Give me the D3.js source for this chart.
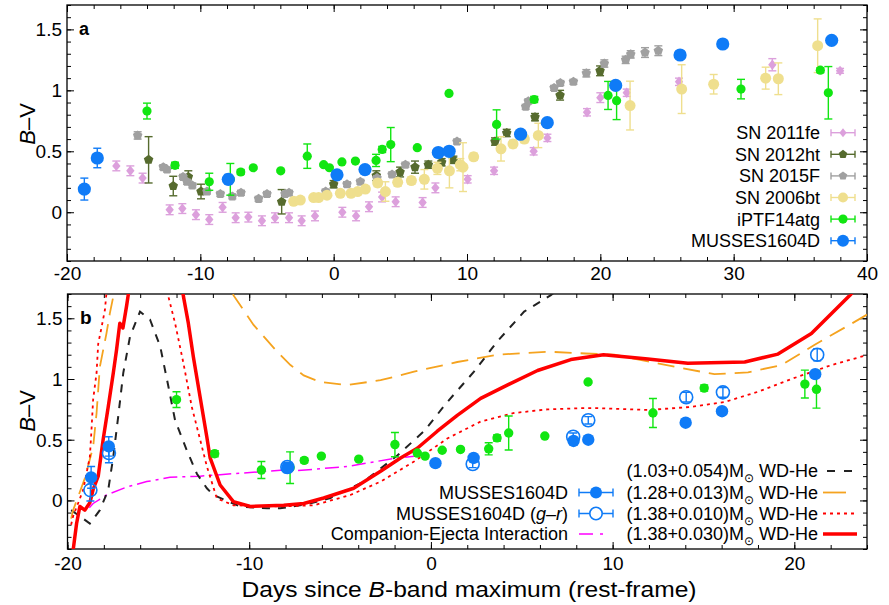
<!DOCTYPE html>
<html><head><meta charset="utf-8">
<script src="https://cdn.jsdelivr.net/npm/d3@7"></script>
<style>
body{margin:0;background:#fff}
svg{display:block;font-family:"Liberation Sans",Arial,Helvetica,sans-serif}
</style>
</head><body>
<svg id="c" width="889" height="605"></svg>
<script>
// ---------------- DATA (day, B-V, error) ----------------
const sn2011fe = [[-16.3,0.38,0.04],[-15.25,0.34,0.04],[-14.33,0.28,0.04],[-12.3,0.02,0.04],[-11.35,0.03,0.04],[-10.33,-0.02,0.04],[-9.33,-0.06,0.04],[-8.33,0.04,0.04],[-7.35,-0.045,0.04],[-6.4,-0.04,0.04],[-5.38,-0.07,0.04],[-4.4,-0.045,0.04],[-3.35,-0.045,0.04],[-2.4,-0.07,0.04],[-1.4,-0.03,0.04],[0.65,0.0,0.04],[1.68,-0.03,0.04],[2.65,0.045,0.04],[3.63,0.125,0.04],[4.65,0.086,0.04],[6.67,0.08,0.04],[7.63,0.2,0.04],[10.05,0.27,0.03],[12.03,0.34,0.03],[15,0.5,0.03],[16.03,0.61,0.03],[19,0.82,0.03],[20,0.94,0.04],[21.98,0.98,0.03],[25.9,1.07,0.03],[32.9,1.21,0.05],[37.98,1.16,0.02]];
const sn2012ht = [[-13.88,0.43,0.19],[-12.03,0.215,0.08],[-10.9,0.29,0.05],[-9.95,0.17,0.06],[-3.9,0.086,0.1],[0.0,0.23,0.03],[3.2,0.3,0.04],[4.98,0.33,0.04],[6.1,0.37,0.05],[7.1,0.39,0.03],[8.1,0.41,0.03],[8.98,0.43,0.03],[12.1,0.58,0.03],[12.98,0.65,0.03],[15.1,0.78,0.03],[16.98,0.96,0.04],[19.98,1.16,0.04]];
const sn2015F = [[-14.7,0.63,0.03],[-12.78,0.37,0.02],[-12.5,0.35,0.02],[-11.3,0.29,0.02],[-11.0,0.25,0.02],[-10.6,0.22,0.02],[-9.5,0.17,0.02],[-8.5,0.15,0.02],[-7.6,0.13,0.02],[-6.95,0.16,0.02],[-5.63,0.11,0.02],[-5.0,0.15,0.02],[-3.65,0.15,0.02],[-3.35,0.16,0.02],[-0.6,0.17,0.02],[1.0,0.23,0.02],[2.0,0.25,0.02],[3.25,0.28,0.02],[4.38,0.31,0.02],[5.38,0.39,0.02],[9.25,0.58,0.02],[14.4,0.865,0.02],[14.6,0.91,0.02],[16.53,1.02,0.02],[17.0,1.06,0.02],[17.98,1.07,0.02],[18.95,1.14,0.03],[20.3,1.22,0.03],[21.9,1.25,0.03],[22.28,1.295,0.03],[23.35,1.31,0.04],[24.35,1.325,0.04]];
const sn2006bt = [[-3.0,0.09,0.02],[-2.5,0.10,0.02],[-1.5,0.12,0.02],[-1.13,0.12,0.02],[-0.5,0.14,0.02],[0.5,0.155,0.02],[1.3,0.155,0.02],[1.8,0.17,0.02],[2.38,0.19,0.02],[3.3,0.24,0.03],[3.88,0.17,0.08],[4.8,0.245,0.03],[5.83,0.26,0.03],[6.8,0.27,0.08],[7.78,0.36,0.05],[8.68,0.34,0.14],[9.5,0.39,0.05],[9.7,0.37,0.2],[10.5,0.455,0.03],[12.55,0.52,0.1],[13.45,0.56,0.03],[14.3,0.6,0.03],[15.35,0.63,0.1],[22.23,0.875,0.2],[26.1,1.01,0.2],[28.5,1.05,0.08],[32.4,1.10,0.09],[33.35,1.095,0.13],[36.3,1.366,0.22]];
const iptf14atg = [[-14,0.83,0.065],[-11.9,0.385,0.025],[-9.33,0.25,0.07],[-7.75,0.27,0.13],[-6.97,0.33,0.02],[-6.03,0.365,0.01],[-3.97,0.34,0.01],[-1.98,0.46,0.1],[-0.75,0.39,0.01],[-0.32,0.365,0.01],[0.62,0.413,0.01],[1.63,0.42,0.01],[3.18,0.425,0.05],[3.64,0.515,0.025],[4.28,0.555,0.14],[6.27,0.53,0.01],[8.65,0.975,0.01],[12.22,0.72,0.12],[15.04,0.925,0.025],[20.58,0.958,0.115],[21.22,0.915,0.155],[30.55,1.01,0.08],[36.5,1.165,0.02],[37.1,0.98,0.215]];
const musses = [[-18.7,0.19,0.09],[-17.73,0.445,0.08],[-7.9,0.27,0.04],[0.25,0.307,0.02],[2.35,0.35,0.02],[7.85,0.49,0.02],[8.66,0.5,0.02],[14.02,0.64,0.02],[16.02,0.735,0.02],[21.15,1.04,0.02],[25.98,1.29,0.02],[29.18,1.38,0.02],[37.35,1.41,0.02]];
const mussesGR = [[-18.74,0.085,0.09],[-17.72,0.39,0.08],[-7.9,0.275,0.03],[2.3,0.30,0.03],[7.83,0.525,0.03],[8.66,0.66,0.03],[14.05,0.85,0.04],[16.07,0.89,0.04],[21.26,1.2,0.05]];

// model curves (day, B-V) for panel b
const model103 = [[-19.8,-0.08],[-19.32,-0.13],[-18.77,-0.19],[-18.22,-0.08],[-17.76,0.085],[-17.48,0.36],[-17.21,0.69],[-16.93,1.05],[-16.56,1.35],[-16.01,1.555],[-15.46,1.49],[-14.9,1.27],[-14.45,0.94],[-14.08,0.66],[-13.44,0.415],[-12.88,0.22],[-12.33,0.1],[-11.97,0.045],[-10.5,-0.05],[-9.02,-0.065],[-8.3,-0.065],[-6.8,-0.03],[-5.53,0.02],[-3.7,0.155],[-1.85,0.37],[-0.38,0.57],[0.9,0.81],[2.37,1.06],[3.66,1.31],[5.13,1.555],[6.6,1.69],[7.0,1.74]];
const model128 = [[-19.8,-0.15],[-19.69,-0.08],[-19.05,0.18],[-18.59,0.44],[-18.4,0.72],[-18.22,1.1],[-17.85,1.38],[-17.67,1.54],[-17.48,1.68],[-17.3,1.9],[-11.2,1.9],[-10.87,1.69],[-9.76,1.445],[-8.47,1.225],[-7.73,1.115],[-7.0,1.03],[-6.08,0.975],[-4.6,0.95],[-2.77,0.99],[-0.93,1.06],[1.45,1.14],[3.66,1.2],[6.42,1.225],[8.5,1.21],[10.1,1.2],[11.94,1.145],[13.78,1.09],[15.6,1.04],[17.45,1.055],[19.3,1.115],[21.1,1.28],[23.2,1.46],[24,1.53]];
const model138a = [[-19.8,-0.2],[-19.69,-0.13],[-19.14,0.085],[-18.77,0.36],[-18.68,0.58],[-18.59,0.83],[-18.4,1.05],[-18.31,1.29],[-18.12,1.43],[-17.94,1.57],[-17.8,1.8],[-17.5,2.1],[-14.8,2.1],[-14.45,1.68],[-14.08,1.46],[-13.62,1.13],[-13.16,0.77],[-12.7,0.5],[-12.33,0.28],[-11.78,0.017],[-10.87,-0.04],[-8.3,-0.05],[-6.45,-0.04],[-4.43,0.045],[-2.77,0.155],[-0.93,0.32],[0.9,0.51],[2.74,0.65],[4.58,0.72],[6.42,0.75],[8.26,0.76],[9.18,0.76],[11.94,0.745],[14.3,0.77],[16.16,0.81],[18.0,0.895],[19.84,1.0],[22.05,1.115],[24.07,1.2]];
const model138b = [[-19.8,-0.45],[-19.69,-0.41],[-19.5,-0.19],[-19.32,-0.05],[-19.05,-0.08],[-18.77,-0.02],[-18.59,0.09],[-18.31,0.2],[-18.04,0.5],[-17.76,0.77],[-17.48,1.05],[-17.3,1.24],[-17.12,1.46],[-16.95,1.42],[-16.75,1.6],[-16.5,1.85],[-16,2.1],[-14,2.1],[-13.62,1.68],[-13.35,1.46],[-13.07,1.18],[-12.7,0.85],[-12.33,0.52],[-12.15,0.35],[-11.6,0.127],[-10.87,-0.01],[-9.94,-0.05],[-8.1,-0.04],[-7,-0.025],[-5.9,0.02],[-4.25,0.1],[-2.77,0.24],[-1.67,0.35],[-0.75,0.43],[0.35,0.57],[1.45,0.70],[2.74,0.84],[4.2,0.95],[5.87,1.07],[7.7,1.16],[9.5,1.2],[11.94,1.165],[14.14,1.13],[17.27,1.14],[19.1,1.205],[20.94,1.375],[23.06,1.69],[23.5,1.76]];
const companion = [[-18.8,-0.06],[-18.59,-0.025],[-17.85,0.045],[-16.75,0.11],[-15.64,0.155],[-14.36,0.19],[-12.7,0.2],[-10.87,0.22],[-8.1,0.25],[-7.37,0.245],[-4.6,0.28],[-1.85,0.35],[-0.8,0.365]];

const ticksA_x = [-20,-10,0,10,20,30,40];
const ticksB_x = [-20,-10,0,10,20];
const ticksY = [0,0.5,1,1.5];

const legendA = ["SN 2011fe","SN 2012ht","SN 2015F","SN 2006bt","iPTF14atg","MUSSES1604D"];
const legendB_models = ["(1.03+0.054)","(1.28+0.013)","(1.38+0.010)","(1.38+0.030)"];

// ---------------- STYLE ----------------
const C = {fe:"#dca0dc", ht:"#566b2e", f15:"#a0a0a0", bt:"#efdf8e", ptf:"#11e611", mus:"#0f7bf7",
           red:"#ff0000", blk:"#222222", org:"#f5a31f", mag:"#ff00ff"};

const svg = d3.select("#c");

const xa = d3.scaleLinear([-20,40],[67,867]);
const ya = d3.scaleLinear([-0.4,1.7],[261,5]);
const xb = d3.scaleLinear([-20,24],[67.5,867]);
const yb = d3.scaleLinear([-0.4,1.7],[549,294]);

function range(a,b,s){const r=[];for(let v=a;v<=b+1e-9;v+=s)r.push(+v.toFixed(3));return r;}

function frame(x,y,xt,tickFs,padX){
  const g = svg.append("g");
  const [x0,x1]=x.range(), [y0,y1]=y.range();
  const xmin = range(x.domain()[0],x.domain()[1],2);
  const ymin = range(-0.4,1.7,0.1);
  const fmt = d=>String(d);
  const ax = (axis,tr,vals,size,lab)=>{
    const gg=g.append("g").attr("transform",tr).call(axis.tickValues(vals).tickSize(size).tickPadding(lab?padX:0).tickFormat(lab?fmt:""));
    gg.select(".domain").remove();
    gg.selectAll("line").attr("stroke","#000").attr("stroke-width",1);
    return gg;
  };
  ax(d3.axisBottom(x),`translate(0,${y0})`,xmin,-4,false);
  ax(d3.axisTop(x),`translate(0,${y1})`,xmin,-4,false);
  ax(d3.axisLeft(y),`translate(${x0},0)`,ymin,-4,false);
  ax(d3.axisRight(y),`translate(${x1},0)`,ymin,-4,false);
  ax(d3.axisBottom(x),`translate(0,${y0})`,xt,-7,true).selectAll("text").attr("font-size",tickFs).attr("fill","#000");
  ax(d3.axisTop(x),`translate(0,${y1})`,xt,-7,false);
  const gl=ax(d3.axisLeft(y),`translate(${x0},0)`,ticksY,-7,false);
  gl.selectAll("text").remove();
  g.append("g").selectAll("text").data(ticksY).join("text")
    .attr("x",x0-5).attr("y",d=>y(d)).attr("dy","0.36em").attr("text-anchor","end")
    .attr("font-size",tickFs).text(d=>String(d));
  ax(d3.axisRight(y),`translate(${x1},0)`,ticksY,-7,false);
  g.append("rect").attr("x",x0).attr("y",y1).attr("width",x1-x0).attr("height",y0-y1)
    .attr("fill","none").attr("stroke","#000").attr("stroke-width",1.3);
  return g;
}

function poly(n,r,rot){const p=[];for(let i=0;i<n;i++){const a=rot+i*2*Math.PI/n;p.push([r*Math.cos(a),r*Math.sin(a)]);}return "M"+p.map(q=>q.map(v=>v.toFixed(2)).join(",")).join("L")+"Z";}
const shapes = {
  diamond: r=>`M0,${-r}L${r*0.8},0L0,${r}L${-r*0.8},0Z`,
  pent: r=>poly(5,r,-Math.PI/2),
  hex: r=>poly(6,r,0),
  circle: r=>`M${r},0A${r},${r},0,1,1,${-r},0A${r},${r},0,1,1,${r},0Z`
};

function errbars(g,data,x,y,col,cap,w){
  const gg=g.append("g").attr("stroke",col).attr("stroke-width",w||1.4).attr("fill","none");
  data.forEach(([d,v,e])=>{
    if(!e) return;
    const X=x(d);
    gg.append("line").attr("x1",X).attr("x2",X).attr("y1",y(v-e)).attr("y2",y(v+e));
    gg.append("line").attr("x1",X-cap).attr("x2",X+cap).attr("y1",y(v-e)).attr("y2",y(v-e));
    gg.append("line").attr("x1",X-cap).attr("x2",X+cap).attr("y1",y(v+e)).attr("y2",y(v+e));
  });
}
function markers(g,data,x,y,shape,r,col,open){
  g.append("g").selectAll("path").data(data).join("path")
    .attr("transform",d=>`translate(${x(d[0])},${y(d[1])})`)
    .attr("d",shapes[shape](r))
    .attr("fill",open?"#fff":col).attr("fill-opacity",open?0.0:1).attr("stroke",open?col:"none").attr("stroke-width",1.6);
}
function series(g,data,x,y,shape,r,col,cap,open){errbars(g,data,x,y,col,cap);markers(g,data,x,y,shape,r,col,open);}

// ---------------- PANEL A ----------------
const defs=svg.append("defs");
defs.append("clipPath").attr("id","ca").append("rect").attr("x",67).attr("y",5).attr("width",800).attr("height",256);
defs.append("clipPath").attr("id","cb").append("rect").attr("x",67.5).attr("y",294).attr("width",799.5).attr("height",255);

frame(xa,ya,ticksA_x,"19px",6);
const pa=svg.append("g").attr("clip-path","url(#ca)");
series(pa,sn2011fe,xa,ya,"diamond",5.2,C.fe,4);
series(pa,sn2012ht,xa,ya,"pent",5,C.ht,4);
series(pa,sn2015F,xa,ya,"pent",5,C.f15,4);
series(pa,sn2006bt,xa,ya,"circle",5.5,C.bt,4);
series(pa,iptf14atg,xa,ya,"circle",4.6,C.ptf,4);
series(pa,musses,xa,ya,"circle",6.6,C.mus,4);

svg.append("text").attr("x",79).attr("y",35).attr("font-size","18px").attr("font-weight","bold").text("a");

// legend A
const legA = {fe:["diamond",4.5],ht:["pent",4.5],f15:["pent",4.5],bt:["circle",5],ptf:["circle",4.6],mus:["circle",6]};
const keysA = ["fe","ht","f15","bt","ptf","mus"];
legendA.forEach((t,i)=>{
  const yy = 132.7 + i*21.6, col=C[keysA[i]];
  svg.append("text").attr("x",820).attr("y",yy).attr("dy","0.36em").attr("text-anchor","end").attr("font-size","18px").text(t);
  const g=svg.append("g").attr("stroke",col).attr("stroke-width",1.4);
  g.append("line").attr("x1",831).attr("x2",855).attr("y1",yy).attr("y2",yy);
  g.append("line").attr("x1",831).attr("x2",831).attr("y1",yy-3.5).attr("y2",yy+3.5);
  g.append("line").attr("x1",855).attr("x2",855).attr("y1",yy-3.5).attr("y2",yy+3.5);
  svg.append("path").attr("transform",`translate(843,${yy})`).attr("d",shapes[legA[keysA[i]][0]](legA[keysA[i]][1])).attr("fill",col);
});

// ---------------- PANEL B ----------------
frame(xb,yb,ticksB_x,"19px",8);
const pb=svg.append("g").attr("clip-path","url(#cb)");
const line = d3.line().x(d=>xb(d[0])).y(d=>yb(d[1]));
pb.append("path").datum(companion).attr("d",line).attr("fill","none").attr("stroke",C.mag).attr("stroke-width",1.5).attr("stroke-dasharray","14,5,3,5");
pb.append("path").datum(model103).attr("d",line).attr("fill","none").attr("stroke",C.blk).attr("stroke-width",2).attr("stroke-dasharray","8,8");
pb.append("path").datum(model128).attr("d",line).attr("fill","none").attr("stroke",C.org).attr("stroke-width",1.8).attr("stroke-dasharray","17,9");
pb.append("path").datum(model138a).attr("d",line).attr("fill","none").attr("stroke",C.red).attr("stroke-width",1.8).attr("stroke-dasharray","3,4");
pb.append("path").datum(model138b).attr("d",line).attr("fill","none").attr("stroke",C.red).attr("stroke-width",3.5).attr("stroke-linejoin","round");

const ptfB = iptf14atg.filter(d=>d[0]<=24);
const musB = musses.filter(d=>d[0]<=24);
series(pb,ptfB,xb,yb,"circle",4.7,C.ptf,4);
errbars(pb,mussesGR,xb,yb,C.mus,4,1.4);
markers(pb,mussesGR,xb,yb,"circle",6.5,C.mus,true);
series(pb,musB,xb,yb,"circle",6.2,C.mus,4);

svg.append("text").attr("x",80).attr("y",324).attr("font-size","19px").attr("font-weight","bold").text("b");

// legend B left
const rowsL=[492.5,513.5,534];
const leftTxt=[[["MUSSES1604D",false]],[["MUSSES1604D (",false],["g",true],["–",false],["r",true],[")",false]],[["Companion-Ejecta Interaction",false]]];
leftTxt.forEach((parts,i)=>{
  const t=svg.append("text").attr("x",568).attr("y",rowsL[i]).attr("dy","0.36em").attr("text-anchor","end").attr("font-size","18px");
  parts.forEach(p=>t.append("tspan").attr("font-style",p[1]?"italic":"normal").text(p[0]));
});
[0,1].forEach(i=>{
  const yy=rowsL[i];
  const g=svg.append("g").attr("stroke",C.mus).attr("stroke-width",1.4);
  g.append("line").attr("x1",579).attr("x2",613).attr("y1",yy).attr("y2",yy);
  g.append("line").attr("x1",579).attr("x2",579).attr("y1",yy-4).attr("y2",yy+4);
  g.append("line").attr("x1",613).attr("x2",613).attr("y1",yy-4).attr("y2",yy+4);
  svg.append("path").attr("transform",`translate(596,${yy})`).attr("d",shapes.circle(i?6.2:6))
    .attr("fill",i?"#fff":C.mus).attr("stroke",i?C.mus:"none").attr("stroke-width",1.6);
});
svg.append("line").attr("x1",579).attr("x2",613).attr("y1",534).attr("y2",534).attr("stroke",C.mag).attr("stroke-width",1.5).attr("stroke-dasharray","14,7,3,20");

// legend B right
const rowsR=[471,492.5,513.5,534];
const styl=[[C.blk,2,"8,9"],[C.org,1.8,"40,0"],[C.red,1.8,"3,4"],[C.red,3.5,null]];
legendB_models.forEach((m,i)=>{
  const t=svg.append("text").attr("x",818).attr("y",rowsR[i]).attr("dy","0.36em").attr("text-anchor","end").attr("font-size","18px");
  t.append("tspan").text(m+"M");
  t.append("tspan").attr("font-size","12px").attr("dy",5).text("⊙");
  t.append("tspan").attr("dy",-5).text(" WD-He");
  const ln=svg.append("line").attr("x1",823).attr("x2",i===1?846:857).attr("y1",rowsR[i]).attr("y2",rowsR[i])
     .attr("stroke",styl[i][0]).attr("stroke-width",styl[i][1]);
  if(styl[i][2]) ln.attr("stroke-dasharray",styl[i][2]);
  if(i===0) ln.attr("x1",827);
});

// axis labels
function yLabel(cx,cy){
  const t=svg.append("text").attr("transform",`translate(${cx},${cy}) rotate(-90)`).attr("text-anchor","middle").attr("font-size","22px");
  t.append("tspan").attr("font-style","italic").text("B");
  t.append("tspan").text("–V");
}
yLabel(35,124);
yLabel(35,411);
const xt=svg.append("text").attr("x",469).attr("y",597).attr("text-anchor","middle").attr("font-size","22px")
  .attr("textLength",455).attr("lengthAdjust","spacingAndGlyphs");
xt.append("tspan").text("Days since ");
xt.append("tspan").attr("font-style","italic").text("B");
xt.append("tspan").text("-band maximum (rest-frame)");
</script>
</body></html>
